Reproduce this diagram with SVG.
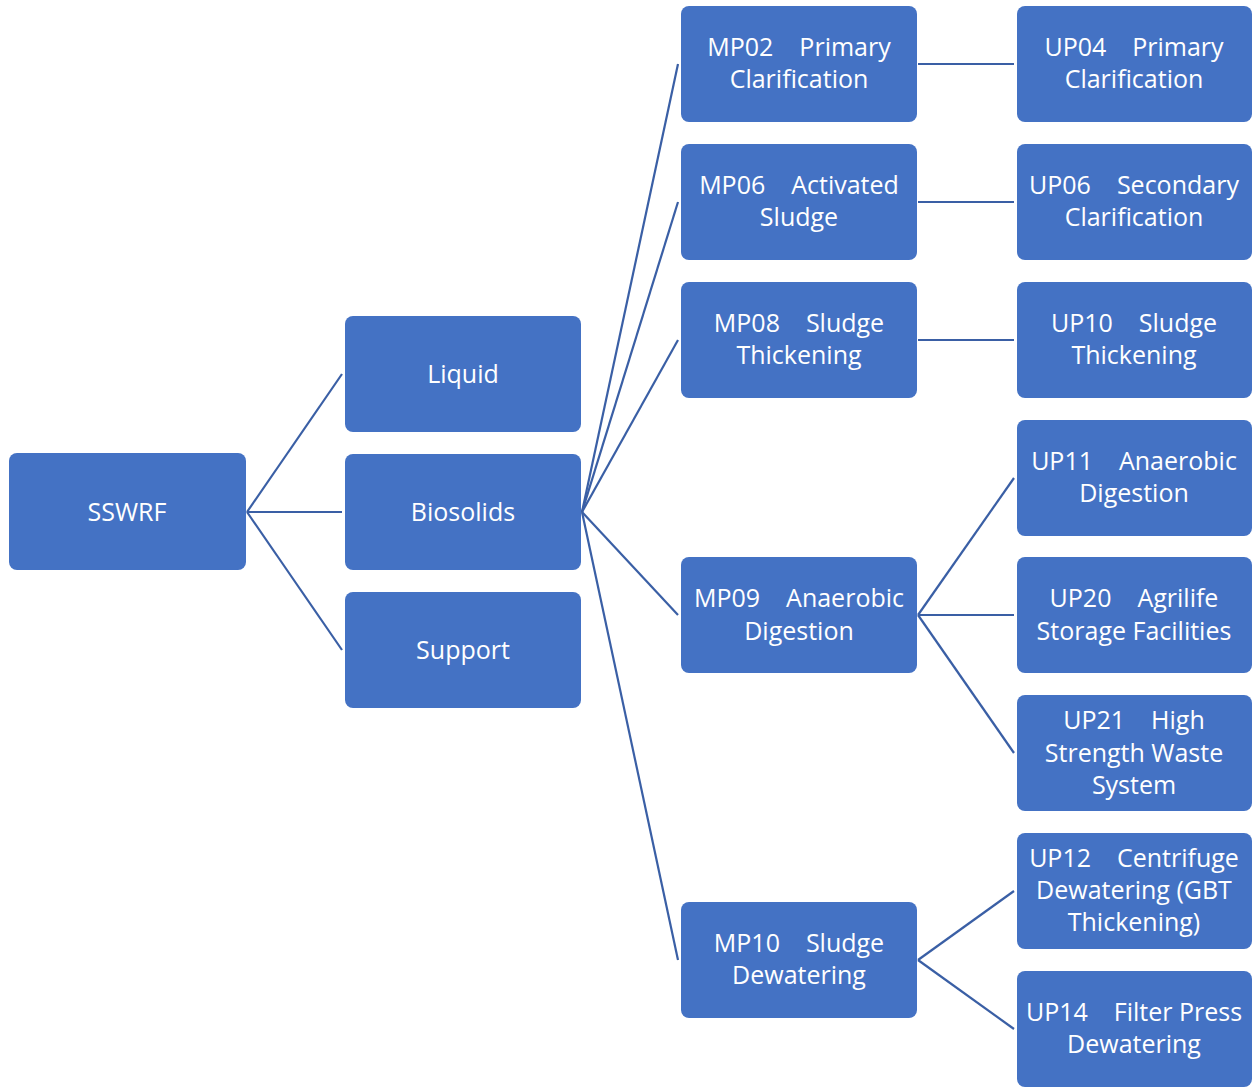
<svg xmlns="http://www.w3.org/2000/svg" width="1252" height="1087" viewBox="0 0 1252 1087">
<style>
.b{fill:#4472C4;}
.t{fill:#FFFFFF;font-family:"Open Sans","Liberation Sans",sans-serif;font-size:25px;text-anchor:middle;white-space:pre;}
.c line{stroke:#3A5FA5;stroke-width:2.2;}
</style>
<rect width="1252" height="1087" fill="#FFFFFF"/>
<g class="c" id="connectors">
<line x1="247" y1="512" x2="342" y2="374"/>
<line x1="247" y1="512" x2="342" y2="512"/>
<line x1="247" y1="512" x2="342" y2="650"/>
<line x1="582" y1="512" x2="678" y2="64"/>
<line x1="582" y1="512" x2="678" y2="202"/>
<line x1="582" y1="512" x2="678" y2="340"/>
<line x1="582" y1="512" x2="678" y2="615"/>
<line x1="582" y1="512" x2="678" y2="960"/>
<line x1="918" y1="64" x2="1014" y2="64"/>
<line x1="918" y1="202" x2="1014" y2="202"/>
<line x1="918" y1="340" x2="1014" y2="340"/>
<line x1="918" y1="615" x2="1014" y2="478"/>
<line x1="918" y1="615" x2="1014" y2="615"/>
<line x1="918" y1="615" x2="1014" y2="753"/>
<line x1="918" y1="960" x2="1014" y2="891"/>
<line x1="918" y1="960" x2="1014" y2="1029"/>
</g>
<g id="sswrf"><rect class="b" x="9" y="453" width="237" height="117" rx="8"/><text class="t" x="127" y="521">SSWRF</text></g>
<g id="liquid"><rect class="b" x="345" y="316" width="236" height="116" rx="8"/><text class="t" x="463" y="383">Liquid</text></g>
<g id="biosolids"><rect class="b" x="345" y="454" width="236" height="116" rx="8"/><text class="t" x="463" y="521">Biosolids</text></g>
<g id="support"><rect class="b" x="345" y="592" width="236" height="116" rx="8"/><text class="t" x="463" y="659">Support</text></g>
<g id="mp02"><rect class="b" x="681" y="6" width="236" height="116" rx="8"/><text class="t" x="799" y="56">MP02    Primary</text><text class="t" x="799" y="88">Clarification</text></g>
<g id="mp06"><rect class="b" x="681" y="144" width="236" height="116" rx="8"/><text class="t" x="799" y="194">MP06    Activated</text><text class="t" x="799" y="226">Sludge</text></g>
<g id="mp08"><rect class="b" x="681" y="282" width="236" height="116" rx="8"/><text class="t" x="799" y="332">MP08    Sludge</text><text class="t" x="799" y="364">Thickening</text></g>
<g id="mp09"><rect class="b" x="681" y="557" width="236" height="116" rx="8"/><text class="t" x="799" y="607">MP09    Anaerobic</text><text class="t" x="799" y="640">Digestion</text></g>
<g id="mp10"><rect class="b" x="681" y="902" width="236" height="116" rx="8"/><text class="t" x="799" y="952">MP10    Sludge</text><text class="t" x="799" y="984">Dewatering</text></g>
<g id="up04"><rect class="b" x="1017" y="6" width="235" height="116" rx="8"/><text class="t" x="1134" y="56">UP04    Primary</text><text class="t" x="1134" y="88">Clarification</text></g>
<g id="up06"><rect class="b" x="1017" y="144" width="235" height="116" rx="8"/><text class="t" x="1134" y="194">UP06    Secondary</text><text class="t" x="1134" y="226">Clarification</text></g>
<g id="up10"><rect class="b" x="1017" y="282" width="235" height="116" rx="8"/><text class="t" x="1134" y="332">UP10    Sludge</text><text class="t" x="1134" y="364">Thickening</text></g>
<g id="up11"><rect class="b" x="1017" y="420" width="235" height="116" rx="8"/><text class="t" x="1134" y="470">UP11    Anaerobic</text><text class="t" x="1134" y="502">Digestion</text></g>
<g id="up20"><rect class="b" x="1017" y="557" width="235" height="116" rx="8"/><text class="t" x="1134" y="607">UP20    Agrilife</text><text class="t" x="1134" y="640">Storage Facilities</text></g>
<g id="up21"><rect class="b" x="1017" y="695" width="235" height="116" rx="8"/><text class="t" x="1134" y="729">UP21    High</text><text class="t" x="1134" y="762">Strength Waste</text><text class="t" x="1134" y="794">System</text></g>
<g id="up12"><rect class="b" x="1017" y="833" width="235" height="116" rx="8"/><text class="t" x="1134" y="867">UP12    Centrifuge</text><text class="t" x="1134" y="899">Dewatering (GBT</text><text class="t" x="1134" y="931">Thickening)</text></g>
<g id="up14"><rect class="b" x="1017" y="971" width="235" height="116" rx="8"/><text class="t" x="1134" y="1021">UP14    Filter Press</text><text class="t" x="1134" y="1053">Dewatering</text></g>
</svg>
